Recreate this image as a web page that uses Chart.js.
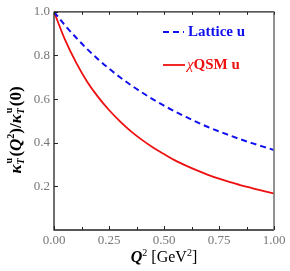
<!DOCTYPE html>
<html>
<head>
<meta charset="utf-8">
<script src="https://cdn.jsdelivr.net/npm/chart.js@4/dist/chart.umd.min.js"></script>
<style>
  body{margin:0;background:#fff;}
  #wrap{position:relative;width:290px;height:271px;}
  .lbl{position:absolute;font-family:'Liberation Serif','DejaVu Serif',serif;white-space:nowrap;}
  .ss{display:inline-block;position:relative;width:8px;height:10px;font-size:10px;}
  .ss .u{position:absolute;left:1px;top:-7px;line-height:10px;}
  .ss .t{position:absolute;left:0;top:5px;line-height:10px;}
  sup{font-size:10px;line-height:0;}
</style>
</head>
<body>
<div id="wrap">
  <canvas id="myChart" width="290" height="271"></canvas>
  <div class="lbl" id="ytitle" style="left:-62px;top:120px;width:156px;height:20px;line-height:20px;text-align:center;font-size:17px;font-weight:bold;transform:rotate(-90deg);">
    <i>κ</i><span class="ss"><span class="u">u</span><span class="t"><i>T</i></span></span>(<i>Q</i><sup>2</sup>)/<i>κ</i><span class="ss"><span class="u">u</span><span class="t"><i>T</i></span></span>(0)
  </div>
  <div class="lbl" style="left:112px;top:248px;width:104px;text-align:center;font-size:16px;">
    <b><i>Q</i></b><sup>2</sup> [GeV<sup>2</sup>]
  </div>
  <div class="lbl" style="left:188px;top:23px;font-size:15px;font-weight:bold;color:#1010ee;">Lattice u</div>
  <div class="lbl" style="left:187px;top:56px;font-size:15px;color:#ee1010;"><i>χ</i><b>QSM u</b></div>
</div>
<script>
'use strict';
// Q^2 values (GeV^2)
let q2 = [0, 0.05, 0.1, 0.15, 0.2, 0.25, 0.3, 0.35, 0.4, 0.45, 0.5, 0.55, 0.6, 0.65, 0.7, 0.75, 0.8, 0.85, 0.9, 0.95, 1.0];
let latticeU = [1, 0.938, 0.882, 0.830, 0.783, 0.740, 0.700, 0.664, 0.630, 0.599, 0.570, 0.543, 0.518, 0.494, 0.472, 0.452, 0.433, 0.415, 0.398, 0.382, 0.367];
let qsmU = [1, 0.872, 0.768, 0.681, 0.610, 0.550, 0.498, 0.452, 0.413, 0.378, 0.348, 0.319, 0.295, 0.273, 0.253, 0.235, 0.219, 0.205, 0.192, 0.179, 0.168];
let xTicks = [0, 0.25, 0.5, 0.75, 1];
let xMinor = [0, 0.125, 0.25, 0.375, 0.5, 0.625, 0.75, 0.875, 1];
let yTicks = [0.2, 0.4, 0.6, 0.8, 1.0];

function toPoints(ys){
  return q2.map((x,i)=>({x:x,y:ys[i]}));
}

// frame + inward ticks + legend lines
const framePlugin = {
  id:'frame',
  afterDraw(chart){
    const ctx = chart.ctx;
    const a = chart.chartArea;
    const xs = chart.scales.x;
    const ys = chart.scales.y;
    ctx.save();
    ctx.lineWidth = 1.3;
    ctx.strokeStyle = '#222';
    ctx.beginPath();
    ctx.moveTo(a.left,a.top);ctx.lineTo(a.left,a.bottom);ctx.lineTo(a.right,a.bottom);
    ctx.moveTo(a.left,a.top);ctx.lineTo(a.right,a.top);
    ctx.stroke();
    ctx.strokeStyle = '#777';
    ctx.lineWidth = 1.6;
    ctx.beginPath();ctx.moveTo(a.right,a.top);ctx.lineTo(a.right,a.bottom);ctx.stroke();
    ctx.strokeStyle = '#222';
    ctx.lineWidth = 1;
    ctx.beginPath();
    xMinor.forEach(v=>{
      let px = Math.round(xs.getPixelForValue(v))+0.5;
      let len = xTicks.includes(v) ? 4 : 3;
      ctx.moveTo(px,a.bottom);ctx.lineTo(px,a.bottom-len);
      ctx.moveTo(px,a.top);ctx.lineTo(px,a.top+3);
    });
    yTicks.forEach(v=>{
      let py = Math.round(ys.getPixelForValue(v))+0.5;
      ctx.moveTo(a.left,py);ctx.lineTo(a.left+4,py);
    });
    ctx.stroke();
    ctx.lineWidth = 1.8;
    ctx.strokeStyle = '#1010ee';
    ctx.setLineDash([6,4]);
    ctx.beginPath();ctx.moveTo(163,32);ctx.lineTo(184,32);ctx.stroke();
    ctx.setLineDash([]);
    ctx.strokeStyle = '#ee1010';
    ctx.beginPath();ctx.moveTo(163,65);ctx.lineTo(185,65);ctx.stroke();
    ctx.restore();
  }
};

const data = {
  datasets:[{
    label:'Lattice u',
    data:toPoints(latticeU),
    borderColor:'#1010ee',
    borderWidth:2,
    borderDash:[6,4],
    pointRadius:0,
    cubicInterpolationMode:'monotone',
    fill:false
  },{
    label:'χQSM u',
    data:toPoints(qsmU),
    borderColor:'#ee1010',
    borderWidth:1.8,
    pointRadius:0,
    cubicInterpolationMode:'monotone',
    fill:false
  }]
};

const config = {
  type:'line',
  data:data,
  plugins:[framePlugin],
  options:{
    responsive:false,
    animation:false,
    layout:{padding:{top:10,right:16,left:0,bottom:0}},
    plugins:{legend:{display:false},tooltip:{enabled:false}},
    scales:{
      x:{
        type:'linear',min:0,max:1,
        afterFit(s){s.height = 41;},
        afterBuildTicks(s){s.ticks = xTicks.map(v=>({value:v}));},
        grid:{display:false,drawTicks:false},
        border:{display:false},
        ticks:{padding:3,color:'#777',font:{family:'Liberation Serif',size:13},
          callback:v=>v.toFixed(2),maxRotation:0}
      },
      y:{
        min:0,max:1,
        afterFit(s){s.width = 54;},
        afterBuildTicks(s){s.ticks = yTicks.map(v=>({value:v}));},
        grid:{display:false,drawTicks:false},
        border:{display:false},
        ticks:{padding:4,color:'#777',font:{family:'Liberation Serif',size:13},
          callback:v=>v.toFixed(1)}
      }
    }
  }
};

let myChart = new Chart(document.getElementById('myChart'), config);
</script>
</body>
</html>
